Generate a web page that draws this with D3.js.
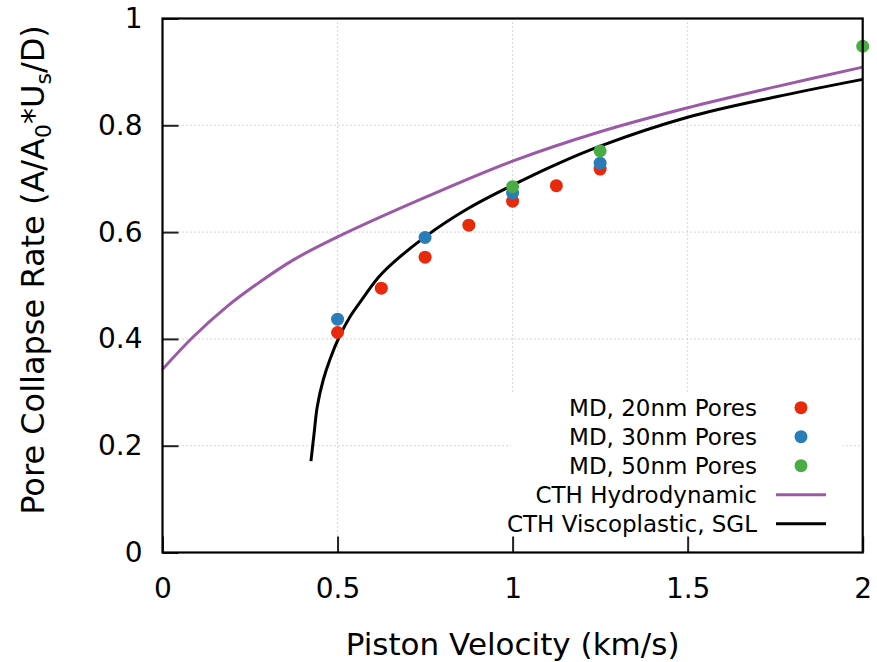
<!DOCTYPE html>
<html><head><meta charset="utf-8">
<script src="https://cdn.jsdelivr.net/npm/d3@7"></script>
<style>body{margin:0;background:#fff}svg{display:block}text{font-family:"DejaVu Sans",sans-serif;fill:#000}</style>
</head><body>
<svg id="c" width="877" height="662"></svg>
<script>
const xTicks=[0,0.5,1,1.5,2];
const yTicks=[0,0.2,0.4,0.6,0.8,1];
const md20X=[0.5,0.625,0.75,0.875,1.0,1.125,1.25];
const md20Y=[0.412,0.495,0.553,0.613,0.658,0.687,0.718];
const md30X=[0.5,0.75,1.0,1.25];
const md30Y=[0.437,0.590,0.673,0.729];
const md50X=[1.0,1.25,2.0];
const md50Y=[0.685,0.752,0.948];
const hydroX=[0,0.088,0.183,0.279,0.374,0.5,0.75,1.0,1.25,1.5,1.75,2.0];
const hydroY=[0.343,0.404,0.460,0.507,0.548,0.591,0.665,0.733,0.788,0.833,0.872,0.909];
const viscoX=[0.424,0.433,0.442,0.459,0.479,0.505,0.536,0.569,0.626,0.75,0.875,1.0,1.125,1.25,1.5,1.75,2.0];
const viscoY=[0.171,0.223,0.273,0.323,0.363,0.404,0.442,0.473,0.522,0.591,0.645,0.688,0.727,0.761,0.815,0.853,0.886];
const legendLabels=["MD, 20nm Pores","MD, 30nm Pores","MD, 50nm Pores","CTH Hydrodynamic","CTH Viscoplastic, SGL"];
const colors={md20:"#e8290b",md30:"#2a7db8",md50:"#4aac45",hydro:"#9b59a8",visco:"#000"};

const svg=d3.select("#c");
const L=162.5,R=862.7,T=18.5,B=552.5;
const x=d3.scaleLinear().domain([0,2]).range([L,R]);
const y=d3.scaleLinear().domain([0,1]).range([B,T]);

// grid
const g=svg.append("g");
g.selectAll(".gx").data(xTicks.slice(1,-1)).join("line")
 .attr("x1",d=>x(d)).attr("x2",d=>x(d)).attr("y1",T).attr("y2",B)
 .attr("stroke","#aaa").attr("stroke-width",1).attr("stroke-dasharray","1,3");
g.selectAll(".gy").data(yTicks.slice(1,-1)).join("line")
 .attr("y1",d=>y(d)).attr("y2",d=>y(d)).attr("x1",L).attr("x2",R)
 .attr("stroke","#aaa").attr("stroke-width",1).attr("stroke-dasharray","1,3");

// legend background
svg.append("rect").attr("x",511).attr("y",392).attr("width",332).attr("height",146).attr("fill","#fff");

// axes
const xAxis=d3.axisBottom(x).tickValues(xTicks).tickFormat(d3.format("")).tickSizeInner(-16).tickSizeOuter(0).tickPadding(26);
const yAxis=d3.axisLeft(y).tickValues(yTicks).tickFormat(d3.format("")).tickSizeInner(-16).tickSizeOuter(0).tickPadding(20);
const ax=svg.append("g").attr("transform",`translate(0,${B})`).call(xAxis);
ax.select(".domain").remove();
ax.selectAll(".tick line").attr("stroke","#222").attr("stroke-width",2);
ax.selectAll("text").attr("font-size",28).attr("fill","#000").attr("font-family","DejaVu Sans");
const ay=svg.append("g").attr("transform",`translate(${L},0)`).call(yAxis);
ay.select(".domain").remove();
ay.selectAll(".tick line").attr("stroke","#222").attr("stroke-width",2);
ay.selectAll("text").attr("font-size",28).attr("fill","#000").attr("font-family","DejaVu Sans");

// curves
const line=d3.line().x(d=>x(d[0])).y(d=>y(d[1])).curve(d3.curveCatmullRom.alpha(0.5));
svg.append("path").datum(d3.zip(hydroX,hydroY)).attr("d",line).attr("fill","none").attr("stroke",colors.hydro).attr("stroke-width",3);
svg.append("path").datum(d3.zip(viscoX,viscoY)).attr("d",line).attr("fill","none").attr("stroke",colors.visco).attr("stroke-width",3);

// points
function pts(xs,ys,c){svg.append("g").selectAll("circle").data(d3.zip(xs,ys)).join("circle")
 .attr("cx",d=>x(d[0])).attr("cy",d=>y(d[1])).attr("r",6.5).attr("fill",c);}
pts(md20X,md20Y,colors.md20);
pts(md30X,md30Y,colors.md30);
pts(md50X,md50Y,colors.md50);

// frame
svg.append("rect").attr("x",L).attr("y",T).attr("width",R-L).attr("height",B-T)
 .attr("fill","none").attr("stroke","#000").attr("stroke-width",2.2);

// legend
const lg=svg.append("g");
const legCols=[colors.md20,colors.md30,colors.md50,colors.hydro,colors.visco];
legendLabels.forEach((t,i)=>{
  const yy=407.7+29*i;
  lg.append("text").attr("x",757).attr("y",yy).attr("dy","0.35em").attr("text-anchor","end").attr("font-size",23).text(t);
  if(i<3) lg.append("circle").attr("cx",801).attr("cy",yy).attr("r",6.5).attr("fill",legCols[i]);
  else lg.append("line").attr("x1",776).attr("x2",826).attr("y1",yy).attr("y2",yy).attr("stroke",legCols[i]).attr("stroke-width",3);
});

// axis labels
svg.append("text").attr("x",(L+R)/2).attr("y",655).attr("text-anchor","middle").attr("font-size",31).text("Piston Velocity (km/s)");
const yl=svg.append("text").attr("transform",`translate(44,270) rotate(-90)`).attr("text-anchor","middle").attr("font-size",32);
yl.append("tspan").text("Pore Collapse Rate (A/A");
yl.append("tspan").attr("font-size",22).attr("dy",7).text("0");
yl.append("tspan").attr("dy",-7).text("*U");
yl.append("tspan").attr("font-size",22).attr("dy",7).text("s");
yl.append("tspan").attr("dy",-7).text("/D)");
</script>
</body></html>
